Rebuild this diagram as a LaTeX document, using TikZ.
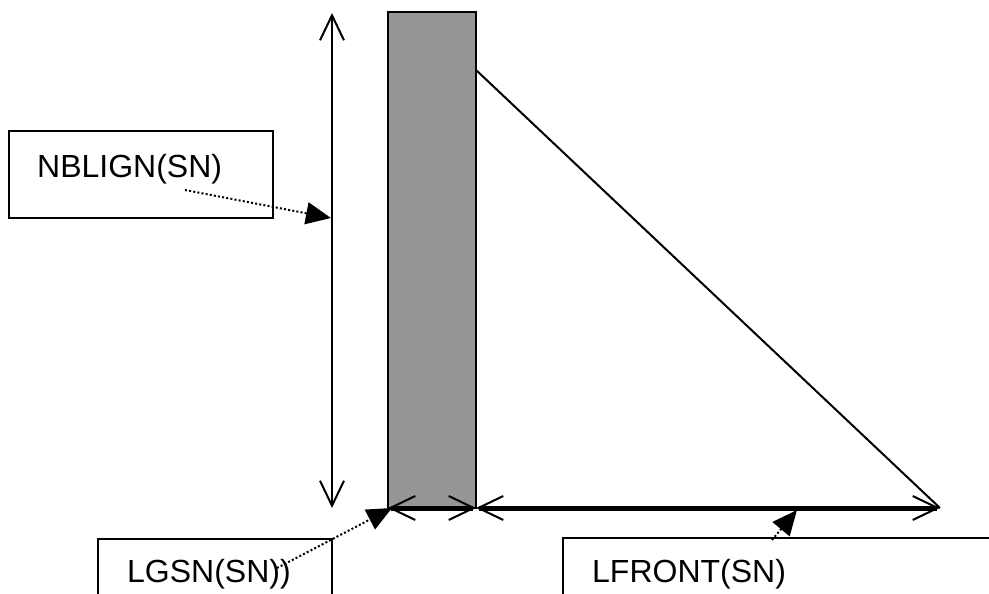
\documentclass[tikz,border=0pt]{standalone}
\usepackage{fontspec}
\setmainfont{Liberation Sans}
\usetikzlibrary{arrows.meta}
\definecolor{wallgray}{HTML}{969696}
\tikzset{
  dimtip/.tip={Straight Barb[length=25pt,width=24pt,line width=2pt]},
  leadtip/.tip={Triangle[length=25pt,width=22pt]},
  labelbox/.style={draw, line width=2.2pt, inner sep=0pt},
  caption/.style={anchor=base west, inner sep=0pt, font=\fontsize{32}{38}\selectfont},
  dimline/.style={line width=2pt, dimtip-dimtip},
  baseline dim/.style={line width=5pt, dimtip-dimtip},
  leader/.style={line width=2pt, dash pattern=on 2pt off 2.2pt, -leadtip},
}
\begin{document}
\begin{tikzpicture}[x=1pt, y=-1pt]
  \useasboundingbox (0,0) rectangle (989,594);
  \clip (0,0) rectangle (989,594);

  % wall section and the sloped face
  \node[draw, line width=2.6pt, fill=wallgray, minimum width=88pt, minimum height=496pt, inner sep=0pt]
    (wall) at (432,260) {};
  \coordinate (crest) at (476,70);
  \coordinate (toe) at (940,508);
  \draw[line width=2pt] (crest) -- (toe);

  % dimension lines
  \coordinate (vtop) at (332,13);
  \coordinate (vbot) at (332,508);
  \draw[dimline] (vtop) -- (vbot);
  \coordinate (heel) at (388,508);
  \coordinate (wallfoot) at (476,508);
  \draw[baseline dim] (heel) -- (wallfoot);
  \draw[baseline dim] (wallfoot) -- (toe);

  % labels
  \node[labelbox, minimum width=264pt, minimum height=87pt] (nbbox) at (141,174.5) {};
  \node[caption] (nbtext) at (37,177) {NBLIGN(SN)};
  \node[labelbox, minimum width=234pt, minimum height=80pt] (lgbox) at (215,579) {};
  \node[caption] (lgtext) at (127,582) {LGSN(SN))};
  \node[labelbox, minimum width=450pt, minimum height=80pt] (lfbox) at (788,578) {};
  \node[caption] (lftext) at (592,582) {LFRONT(SN)};

  % leaders from labels to the dimensions
  \coordinate (nbstart) at (185,190);
  \coordinate (nbtip) at (331,218);
  \draw[leader] (nbstart) -- (nbtip);
  \coordinate (lgstart) at (277,568);
  \coordinate (lgtip) at (392,508);
  \draw[leader] (lgstart) -- (lgtip);
  \coordinate (lfstart) at (772,540);
  \coordinate (lftip) at (797,510);
  \draw[leader] (lfstart) -- (lftip);
\end{tikzpicture}
\end{document}
